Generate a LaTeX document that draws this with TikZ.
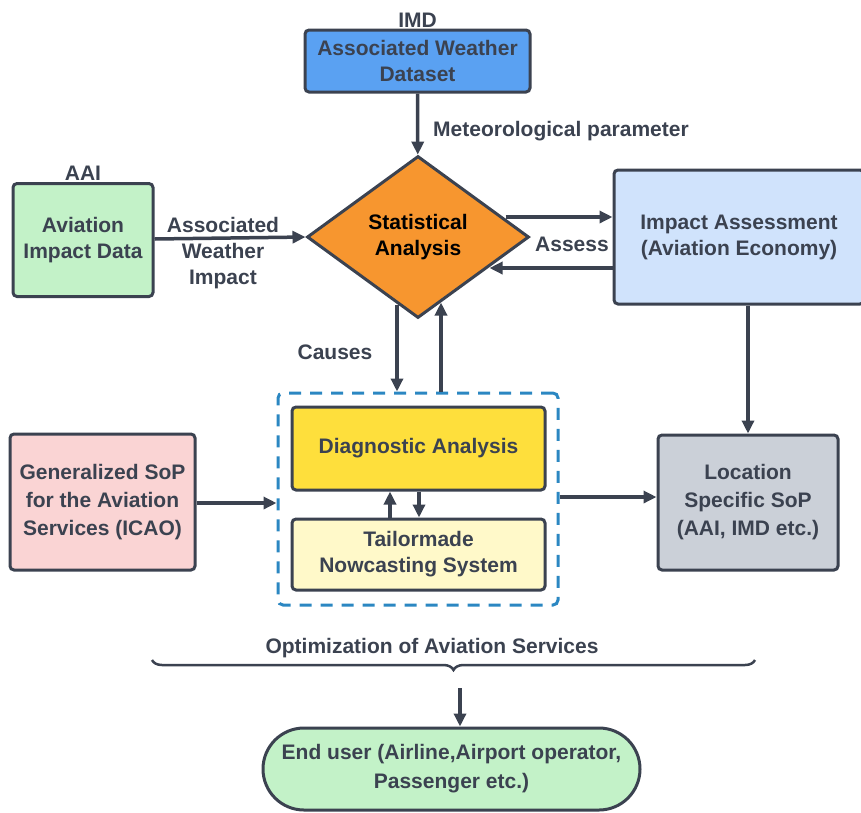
\documentclass[tikz,border=0pt]{standalone}
\usepackage{fontspec}
\setmainfont{Liberation Sans}
\usepackage{tikz}
\usetikzlibrary{shapes,arrows.meta,calc,decorations.pathreplacing}
\usepackage{xcolor}
\definecolor{linegray}{HTML}{3B4250}
\definecolor{wblue}{HTML}{5AA1F2}
\definecolor{sorange}{HTML}{F7962F}
\definecolor{lgreen}{HTML}{C3F2C8}
\definecolor{lblue}{HTML}{D0E3FC}
\definecolor{lpink}{HTML}{FAD4D4}
\definecolor{lgrey}{HTML}{CBD0D8}
\definecolor{dyellow}{HTML}{FEDF3C}
\definecolor{lyellow}{HTML}{FFF9C9}
\definecolor{dashblue}{HTML}{2B87C2}
\tikzstyle{process} = [rectangle, rounded corners=4pt, inner sep=0pt, text centered, align=center, draw=linegray, line width=3pt, text=linegray, font=\bfseries\fontsize{21}{26}\selectfont]
\tikzstyle{decision} = [diamond, inner sep=0pt, minimum width=222, minimum height=162, text centered, align=center, draw=linegray, line width=3pt, fill=sorange, font=\bfseries\fontsize{21}{26}\selectfont]
\tikzstyle{startstop} = [rounded rectangle, inner sep=0pt, minimum width=377, minimum height=82, text centered, align=center, draw=linegray, line width=3pt, fill=lgreen, text=linegray, font=\bfseries\fontsize{21}{29}\selectfont]
\tikzstyle{lbl} = [text=linegray, align=center, inner sep=0pt, font=\bfseries\fontsize{21}{26}\selectfont]
\tikzstyle{arrow} = [line width=3.5pt, draw=linegray, -{Triangle[length=13pt,width=12pt]}]

\begin{document}
\begin{tikzpicture}[x=1pt, y=-1pt]
    \useasboundingbox (0,0) rectangle (861,812);
    \node (wds) [process, fill=wblue, minimum width=225, minimum height=62] at (417.5,61) {Associated Weather\\Dataset};
    \node (imd) [lbl, above=1pt] at (wds.north) {IMD};
    \node (dia) [decision] at (418,237) {Statistical\\Analysis};
    \node (aid) [process, fill=lgreen, minimum width=140, minimum height=113] at (83,240) {Aviation\\Impact Data};
    \node (aai) [lbl, above=1pt] at (aid.north) {AAI};
    \node (imp) [process, fill=lblue, minimum width=250, minimum height=134] at (739,237) {Impact Assessment\\(Aviation Economy)};
    \node (dash) [draw=dashblue, line width=3pt, dash pattern=on 12pt off 9pt, rounded corners=5pt, minimum width=280, minimum height=212, inner sep=0pt] at (418,499) {};
    \node (diag) [process, fill=dyellow, minimum width=253, minimum height=83] at (418.5,448.5) {Diagnostic Analysis};
    \node (tail) [process, fill=lyellow, minimum width=253, minimum height=71] at (418.5,554.5) {Tailormade\\Nowcasting System};
    \node (gen) [process, fill=lpink, minimum width=185, minimum height=136, font=\bfseries\fontsize{21}{28}\selectfont] at (102.5,502) {Generalized SoP\\for the Aviation\\Services (ICAO)};
    \node (loc) [process, fill=lgrey, minimum width=180, minimum height=135, font=\bfseries\fontsize{21}{28}\selectfont] at (748,502.5) {Location\\Specific SoP\\(AAI, IMD etc.)};
    \node (opt) [lbl] at (432,648) {Optimization of Aviation Services};
    \node (end) [startstop] at (451.5,769) {End user (Airline,Airport operator,\\Passenger etc.)};

    % points on the diamond border
    \coordinate (sa1) at ($(dia.east)+(-25,-20)$);
    \coordinate (sa2) at ($(dia.east)+(-41,31)$);
    \coordinate (sa3) at ($(dia.south)+(-21,-15)$);
    \coordinate (sa4) at ($(dia.south)+(23,-17)$);

    \draw [arrow] (wds) -- (dia);
    \node (met) [lbl, anchor=west] at (433,131) {Meteorological parameter};
    \draw [arrow] (aid.east |- 0,239) -- (dia.west);
    \node (awi) [lbl] at (223,253) {Associated\\Weather\\Impact};
    \draw [arrow] (sa1) -- (sa1 -| imp.west);
    \draw [arrow] (sa2 -| imp.west) -- (sa2);
    \node (ass) [lbl] at (572,244) {Assess};
    \draw [arrow] (sa3) -- (sa3 |- dash.north);
    \draw [arrow] (sa4 |- dash.north) -- (sa4);
    \node (cau) [lbl] at (335,352) {Causes};
    \draw [arrow] (tail.north -| 390,0) -- (diag.south -| 390,0);
    \draw [arrow] (diag.south -| 419,0) -- (tail.north -| 419,0);
    \draw [arrow] (gen.east |- 0,503) -- (dash.west |- 0,503);
    \draw [arrow] (dash.east |- 0,497) -- (loc.west |- 0,497);
    \draw [arrow] (imp.south -| loc.north) -- (loc.north);
    \draw [line width=2.5pt, draw=linegray, decorate, decoration={brace, mirror, amplitude=10pt}] (152,660) -- (755,660);
    \coordinate (brc) at (460,688);
    \draw [arrow] (brc) -- (brc |- end.north);
\end{tikzpicture}
\end{document}
